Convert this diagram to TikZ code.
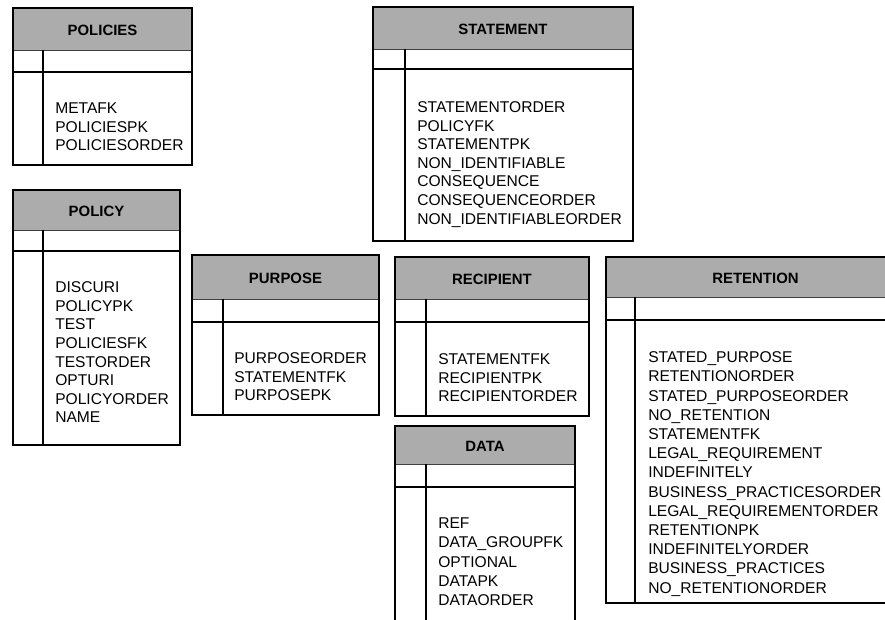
\documentclass[tikz,border=0pt]{standalone}
\usepackage{fontspec}
\setmainfont{Liberation Sans}

% Table frame: #1 name, #2 left, #3 top, #4 right, #5 bottom,
% #6 header bottom, #7 key rule, #8 column divider, #9 title
\newcommand\ertable[9]{%
  \fill[headfill] (#2,#3) rectangle (#4,#6);
  \draw[headrule] (#2,#6) -- (#4,#6);
  \draw[frame] (#2,#7) -- (#4,#7);
  \draw[frame] (#8,#6) -- (#8,#5);
  \draw[frame] (#2,#3) rectangle (#4,#5);
  \node[title] (#1) at ({(#2+#4)/2},{(#3+#6)/2+1}) {#9};
}
% Column list: #1 name, #2 x, #3 centre of first line, #4 line pitch, #5 names
\newcommand\erfields[5]{%
  \foreach \f [count=\i from 1] in {#5}
    \node[field] (#1-\i) at (#2,{#3+5.6+#4*(\i-1)}) {\f};
}

\begin{document}
\begin{tikzpicture}[x=0.75pt,y=-0.75pt,
  frame/.style={line width=1.1pt},
  headfill/.style={fill={rgb,255:red,172;green,172;blue,172}},
  headrule/.style={line width=0.6pt,black!75},
  title/.style={font=\bfseries\fontsize{11.2}{14}\selectfont,inner sep=0pt,
    text height=8.1pt,text depth=0pt},
  field/.style={font=\fontsize{11.7}{14}\selectfont,inner sep=0pt,anchor=base west}]
\clip (0,0) rectangle (885,620);

\ertable{policies}{13}{8}{192}{165}{50}{72}{43}{POLICIES}
\erfields{policies}{55}{108}{18.6}{METAFK,POLICIESPK,POLICIESORDER}

\ertable{policy}{13}{190}{180}{445}{230}{251}{43}{POLICY}
\erfields{policy}{55}{287}{18.6}{DISCURI,POLICYPK,TEST,POLICIESFK,TESTORDER,OPTURI,POLICYORDER,NAME}

\ertable{statement}{373}{7}{633}{241}{49}{69}{405}{STATEMENT}
\erfields{statement}{417}{107}{18.6}{STATEMENTORDER,POLICYFK,STATEMENTPK,NON\_IDENTIFIABLE,CONSEQUENCE,CONSEQUENCEORDER,NON\_IDENTIFIABLEORDER}

\ertable{purpose}{192}{255}{379}{415}{299}{322}{223}{PURPOSE}
\erfields{purpose}{234}{358}{18.6}{PURPOSEORDER,STATEMENTFK,PURPOSEPK}

\ertable{recipient}{395}{257}{589}{416}{299}{322}{426}{RECIPIENT}
\erfields{recipient}{438}{359}{18.6}{STATEMENTFK,RECIPIENTPK,RECIPIENTORDER}

\ertable{data}{395}{426}{575}{640}{464}{487}{426}{DATA}
\erfields{data}{438}{523}{19.2}{REF,DATA\_GROUPFK,OPTIONAL,DATAPK,DATAORDER}

\ertable{retention}{606}{257}{905}{603}{297}{320}{635}{RETENTION}
\erfields{retention}{648}{357}{19.2}{STATED\_PURPOSE,RETENTIONORDER,STATED\_PURPOSEORDER,NO\_RETENTION,STATEMENTFK,LEGAL\_REQUIREMENT,INDEFINITELY,BUSINESS\_PRACTICESORDER,LEGAL\_REQUIREMENTORDER,RETENTIONPK,INDEFINITELYORDER,BUSINESS\_PRACTICES,NO\_RETENTIONORDER}
\end{tikzpicture}
\end{document}
